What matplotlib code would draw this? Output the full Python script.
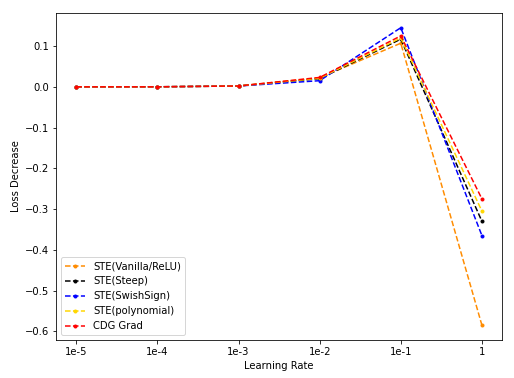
import numpy as np
from matplotlib import pyplot as plt

# Data
learning_rates = ['1e-5', '1e-4', '1e-3', '1e-2', '1e-1', '1']
ste_vanilla = [0.0, 0.0, 0.002, 0.022, 0.107, -0.585]
ste_steep = [0.0, 0.0, 0.002, 0.020, 0.117, -0.330]
ste_swish = [0.0, 0.0, 0.002, 0.015, 0.145, -0.365]
ste_poly = [0.0, 0.0, 0.002, 0.021, 0.120, -0.305]
cdg_grad = [0.0, 0.0, 0.002, 0.023, 0.125, -0.275]

series = [
    ('STE(Vanilla/ReLU)', ste_vanilla, 'darkorange'),
    ('STE(Steep)', ste_steep, 'black'),
    ('STE(SwishSign)', ste_swish, 'blue'),
    ('STE(polynomial)', ste_poly, 'gold'),
    ('CDG Grad', cdg_grad, 'red'),
]

plt.close("all")
fig = plt.figure(figsize=(514 / 72, 378 / 72), dpi=72)
ax = fig.add_axes([0.109, 0.1005, 0.868, 0.8655])

x = np.arange(len(learning_rates))
for label, vals, color in series:
    ax.plot(x, vals, linestyle='--', marker='.', color=color, label=label)

ax.set_xticks(x)
ax.set_xticklabels(learning_rates)
ax.set_xlabel('Learning Rate')
ax.set_ylabel('Loss Decrease')
ax.legend(loc='lower left')

fig.savefig('out.png', dpi=72)
